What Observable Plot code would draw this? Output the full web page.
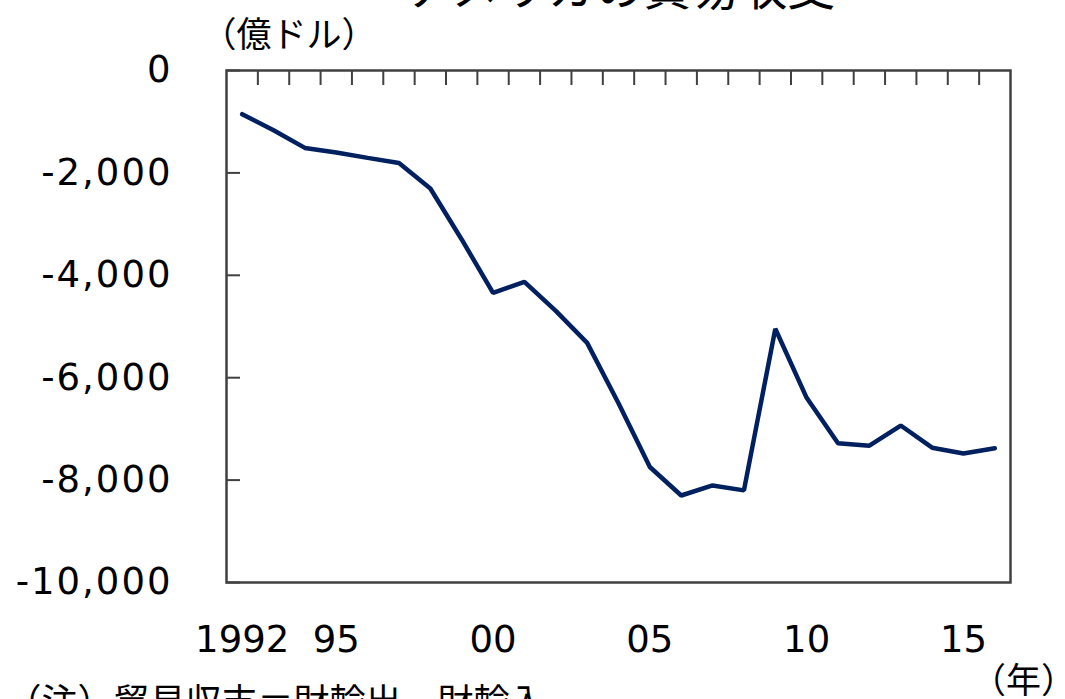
<!DOCTYPE html>
<html>
<head>
<meta charset="utf-8">
<script src="https://cdn.jsdelivr.net/npm/d3@7"></script>
<script src="https://cdn.jsdelivr.net/npm/@observablehq/plot@0.6"></script>
<style>
  html, body { margin: 0; padding: 0; background: #fff; }
  #chart svg { display: block; }
  #chart g.ylab text { letter-spacing: 2px; }
</style>
</head>
<body>
<div id="chart"></div>
<script>
// Data (US trade balance, 100 million USD)
const years = [1992,1993,1994,1995,1996,1997,1998,1999,2000,2001,2002,2003,2004,2005,2006,2007,2008,2009,2010,2011,2012,2013,2014,2015,2016];
const values = [-853,-1166,-1512,-1602,-1707,-1805,-2305,-3300,-4343,-4129,-4695,-5320,-6500,-7744,-8301,-8104,-8201,-5045,-6393,-7281,-7328,-6934,-7367,-7479,-7379];
const yTicks = [0,-2000,-4000,-6000,-8000,-10000];
const xTickYears = [1992,1995,2000,2005,2010,2015];
const xTickLabels = ["1992","95","00","05","10","15"];
const yearBoundaries = years.slice(0, -1).map(y => y + 0.5);

const titleText = "アメリカの貿易収支";
const unitText = "（億ドル）";
const yearUnitText = "（年）";
const noteText = "（注）貿易収支＝財輸出－財輸入";

const data = years.map((year, i) => ({year, value: values[i]}));

const jp = "'Noto Sans CJK JP', sans-serif";
const num = "'DejaVu Sans', sans-serif";
const frameColor = "#404040";

const chart = Plot.plot({
  width: 1065,
  height: 699,
  marginLeft: 226,
  marginRight: 55,
  marginTop: 70,
  marginBottom: 117,
  style: {background: "#fff", fontFamily: num, color: "#000"},
  x: {type: "linear", domain: [years[0] - 0.5, years[years.length - 1] + 0.5]},
  y: {domain: [-10000, 0]},
  marks: [
    // y labels
    Plot.axisY({anchor: "left", ticks: yTicks, tickSize: 0, tickPadding: 54, label: null, className: "ylab",
      tickFormat: d => d.toLocaleString("en-US"), fontSize: 37, fontFamily: num, fill: "#000"}),
    // inward y ticks
    Plot.axisY({anchor: "left", ticks: yTicks, tickSize: 14, dx: 14, label: null,
      tickFormat: () => "", stroke: frameColor, strokeWidth: 2}),
    // top inward ticks at year boundaries
    Plot.axisX({anchor: "top", ticks: yearBoundaries, tickSize: 14, dy: 14, label: null,
      tickFormat: () => "", stroke: frameColor, strokeWidth: 2}),
    // bottom labels
    Plot.axisX({anchor: "bottom", ticks: xTickYears, tickSize: 0, tickPadding: 43, label: null,
      tickFormat: d => xTickLabels[xTickYears.indexOf(d)], fontSize: 37, fontFamily: num, fill: "#000"}),
    Plot.frame({stroke: frameColor, strokeWidth: 2.5}),
    Plot.line(data, {x: "year", y: "value", stroke: "#002060", strokeWidth: 4.5, strokeLinejoin: "miter", strokeLinecap: "round"}),
    // texts
    Plot.text([titleText], {text: d => d, frameAnchor: "top", dx: 2, dy: -81, lineAnchor: "middle",
      fontSize: 48, fontFamily: jp, fill: "#000"}),
    Plot.text([unitText], {text: d => d, frameAnchor: "top-left", dx: -25, dy: -35, textAnchor: "start", lineAnchor: "middle",
      fontSize: 35, fontFamily: jp, fill: "#000"}),
    Plot.text([yearUnitText], {text: d => d, frameAnchor: "bottom-right", dx: 13, dy: 99, textAnchor: "middle", lineAnchor: "middle",
      fontSize: 35, fontFamily: jp, fill: "#000"}),
    Plot.text([noteText], {text: d => d, frameAnchor: "bottom-left", dx: -221, dy: 121, textAnchor: "start", lineAnchor: "middle",
      fontSize: 36, fontFamily: jp, fill: "#000"})
  ]
});
document.getElementById("chart").appendChild(chart);
</script>
</body>
</html>
